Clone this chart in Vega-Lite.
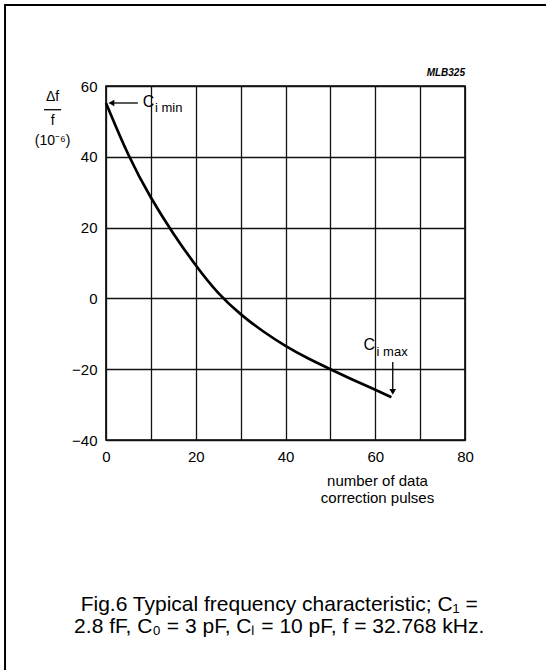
{
  "$schema": "https://vega.github.io/schema/vega-lite/v6.json",
  "width": 359,
  "height": 354,
  "autosize": "none",
  "padding": {"left": 106, "top": 86, "right": 81, "bottom": 230},
  "background": "white",
  "config": {
    "font": "Liberation Sans",
    "view": {"stroke": "black", "strokeWidth": 1.6},
    "axis": {
      "domain": false,
      "ticks": false,
      "grid": true,
      "gridColor": "#111111",
      "gridWidth": 1.3,
      "gridOpacity": 1,
      "labelFont": "Liberation Sans",
      "labelFontSize": 15,
      "labelColor": "black",
      "titleColor": "black",
      "titleFont": "Liberation Sans",
      "labelFlush": false,
      "labelOverlap": false
    }
  },
  "datasets": {
    "curve": [
      {"pulses": 0, "df": 55.2},
      {"pulses": 5, "df": 40.0},
      {"pulses": 10, "df": 28.2},
      {"pulses": 15, "df": 18.2},
      {"pulses": 20, "df": 9.2},
      {"pulses": 25, "df": 1.2},
      {"pulses": 30, "df": -4.6},
      {"pulses": 35, "df": -9.4},
      {"pulses": 40, "df": -13.5},
      {"pulses": 45, "df": -17.0},
      {"pulses": 50, "df": -20.0},
      {"pulses": 55, "df": -23.0},
      {"pulses": 60, "df": -25.8},
      {"pulses": 63.6, "df": -27.9}
    ],
    "frame": [{"x1": -22.5, "x2": 98.5, "y1": 82.9, "y2": -105.5}],
    "arrows": [
      {"x1": 1.6, "x2": 7.1, "y1": 55.2, "y2": 55.2},
      {"x1": 63.9, "x2": 63.9, "y1": -18.0, "y2": -26.0},
      {"x1": -13.8, "x2": -10.0, "y1": 53.3, "y2": 53.3}
    ],
    "headLeft": [{"x": 1.2, "y": 55.2}],
    "headDown": [{"x": 63.9, "y": -26.4}],
    "bigC": [{"x": 8.2, "y": 55.5, "label": "C"}, {"x": 57.4, "y": -13.2, "label": "C"}],
    "subC": [{"x": 10.9, "y": 53.8, "label": "i min"}, {"x": 60.3, "y": -15.1, "label": "i max"}],
    "code": [{"x": 80, "y": 63.7, "label": "MLB325"}],
    "ytitle": [
      {"x": -11.9, "y": 56.9, "label": "Δf"},
      {"x": -11.9, "y": 50.2, "label": "f"},
      {"x": -11.9, "y": 44.6, "label": "(10⁻⁶)"}
    ],
    "caption": [
      {"x": 38.6, "y": -86.6, "label": "Fig.6  Typical frequency characteristic; C₁ ="},
      {"x": 38.6, "y": -92.8, "label": "2.8 fF, C₀ = 3 pF, Cₗ = 10 pF, f = 32.768 kHz."}
    ]
  },
  "layer": [
    {
      "data": {"name": "curve"},
      "mark": {"type": "line", "color": "black", "strokeWidth": 2.7, "interpolate": "basis"},
      "encoding": {
        "x": {
          "field": "pulses", "type": "quantitative",
          "scale": {"domain": [0, 80], "nice": false, "zero": false},
          "axis": {
            "values": [0, 10, 20, 30, 40, 50, 60, 70, 80],
            "labelExpr": "datum.value % 20 == 0 ? datum.label : ''",
            "labelPadding": 9,
            "title": ["number of data", "correction pulses"],
            "titleFontSize": 15,
            "titleFontWeight": "normal",
            "titleLineHeight": 17,
            "titleX": 271,
            "titleY": 33,
            "titleAlign": "center",
            "titleBaseline": "top"
          }
        },
        "y": {
          "field": "df", "type": "quantitative",
          "scale": {"domain": [-40, 60], "nice": false, "zero": false},
          "axis": {
            "values": [-40, -30, -20, -10, 0, 10, 20, 30, 40, 50, 60],
            "labelExpr": "datum.value % 20 == 0 ? datum.label : ''",
            "labelPadding": 9,
            "title": null
          }
        }
      }
    },
    {
      "data": {"name": "frame"},
      "mark": {"type": "rect", "filled": false, "stroke": "black", "strokeWidth": 2},
      "encoding": {
        "x": {"field": "x1", "type": "quantitative"},
        "x2": {"field": "x2"},
        "y": {"field": "y1", "type": "quantitative"},
        "y2": {"field": "y2"}
      }
    },
    {
      "data": {"name": "arrows"},
      "mark": {"type": "rule", "color": "black", "strokeWidth": 1.3},
      "encoding": {
        "x": {"field": "x1", "type": "quantitative"},
        "x2": {"field": "x2"},
        "y": {"field": "y1", "type": "quantitative"},
        "y2": {"field": "y2"}
      }
    },
    {
      "data": {"name": "headLeft"},
      "mark": {"type": "point", "shape": "triangle-left", "filled": true, "color": "black", "size": 45, "opacity": 1},
      "encoding": {
        "x": {"field": "x", "type": "quantitative"},
        "y": {"field": "y", "type": "quantitative"}
      }
    },
    {
      "data": {"name": "headDown"},
      "mark": {"type": "point", "shape": "triangle-down", "filled": true, "color": "black", "size": 45, "opacity": 1},
      "encoding": {
        "x": {"field": "x", "type": "quantitative"},
        "y": {"field": "y", "type": "quantitative"}
      }
    },
    {
      "data": {"name": "bigC"},
      "mark": {"type": "text", "align": "left", "baseline": "middle", "fontSize": 16, "color": "black", "font": "Liberation Sans"},
      "encoding": {
        "x": {"field": "x", "type": "quantitative"},
        "y": {"field": "y", "type": "quantitative"},
        "text": {"field": "label"}
      }
    },
    {
      "data": {"name": "subC"},
      "mark": {"type": "text", "align": "left", "baseline": "middle", "fontSize": 13, "color": "black", "font": "Liberation Sans"},
      "encoding": {
        "x": {"field": "x", "type": "quantitative"},
        "y": {"field": "y", "type": "quantitative"},
        "text": {"field": "label"}
      }
    },
    {
      "data": {"name": "code"},
      "mark": {"type": "text", "align": "right", "baseline": "middle", "fontSize": 10, "fontStyle": "italic", "fontWeight": "bold", "color": "black", "font": "Liberation Sans"},
      "encoding": {
        "x": {"field": "x", "type": "quantitative"},
        "y": {"field": "y", "type": "quantitative"},
        "text": {"field": "label"}
      }
    },
    {
      "data": {"name": "ytitle"},
      "mark": {"type": "text", "align": "center", "baseline": "middle", "fontSize": 14, "color": "black", "font": "Liberation Sans"},
      "encoding": {
        "x": {"field": "x", "type": "quantitative"},
        "y": {"field": "y", "type": "quantitative"},
        "text": {"field": "label"}
      }
    },
    {
      "data": {"name": "caption"},
      "mark": {"type": "text", "align": "center", "baseline": "middle", "fontSize": 21, "color": "black", "font": "Liberation Sans"},
      "encoding": {
        "x": {"field": "x", "type": "quantitative"},
        "y": {"field": "y", "type": "quantitative"},
        "text": {"field": "label"}
      }
    }
  ]
}
